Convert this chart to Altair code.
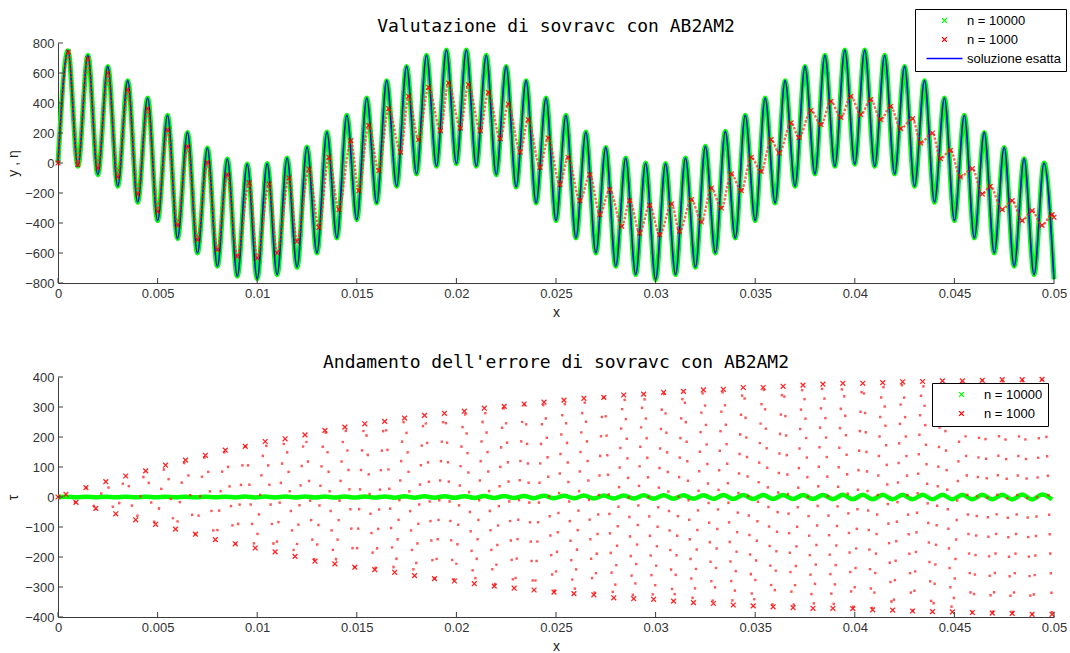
import altair as alt
import pandas as pd

# ---------------- axes ticks / categories ----------------
X_TICKS = [0, 0.005, 0.01, 0.015, 0.02, 0.025, 0.03, 0.035, 0.04, 0.045, 0.05]
Y_TICKS_TOP = [-800, -600, -400, -200, 0, 200, 400, 600, 800]
Y_TICKS_BOT = [-400, -300, -200, -100, 0, 100, 200, 300, 400]

SERIES_TOP = ["n = 10000", "n = 1000", "soluzione esatta"]
COLORS_TOP = ["#00ff00", "#ff0000", "#0000ff"]
SERIES_BOT = ["n = 10000", "n = 1000"]
COLORS_BOT = ["#00ff00", "#ff0000"]

# ---------------- top panel: exact solution (local extremes) ----------------
exact_x = [
    0.0, 0.0005, 0.001, 0.0015, 0.002, 0.0025, 0.003, 0.0035, 0.004, 0.0045,
    0.005, 0.0055, 0.006, 0.0065, 0.007, 0.0075, 0.008, 0.0085, 0.009, 0.0095,
    0.01, 0.0105, 0.011, 0.0115, 0.012, 0.0125, 0.013, 0.0135, 0.014, 0.0145,
    0.015, 0.0155, 0.016, 0.0165, 0.017, 0.0175, 0.018, 0.0185, 0.019, 0.0195,
    0.02, 0.0205, 0.021, 0.0215, 0.022, 0.0225, 0.023, 0.0235, 0.024, 0.0245,
    0.025, 0.0255, 0.026, 0.0265, 0.027, 0.0275, 0.028, 0.0285, 0.029, 0.0295,
    0.03, 0.0305, 0.031, 0.0315, 0.032, 0.0325, 0.033, 0.0335, 0.034, 0.0345,
    0.035, 0.0355, 0.036, 0.0365, 0.037, 0.0375, 0.038, 0.0385, 0.039, 0.0395,
    0.04, 0.0405, 0.041, 0.0415, 0.042, 0.0425, 0.043, 0.0435, 0.044, 0.0445,
    0.045, 0.0455, 0.046, 0.0465, 0.047, 0.0475, 0.048, 0.0485, 0.049, 0.0495,
    0.05,
]
exact_y = [
    0, 749, -22, 718, -78, 644, -155, 549, -262, 433,
    -384, 318, -504, 204, -600, 100, -689, 27, -755, -7,
    -771, -4, -744, 33, -695, 107, -600, 207, -500, 318,
    -378, 433, -267, 549, -155, 644, -73, 718, -22, 753,
    -5, 753, -22, 718, -78, 644, -160, 549, -267, 433,
    -384, 318, -500, 207, -600, 104, -689, 33, -744, 0,
    -778, -4, -744, 33, -695, 111, -600, 211, -500, 318,
    -384, 433, -267, 549, -155, 644, -73, 718, -22, 753,
    -8, 753, -22, 718, -73, 644, -155, 549, -262, 433,
    -384, 318, -500, 204, -600, 104, -689, 29, -744, 0,
    -775,
]

# ---------------- top panel: n = 1000 numerical solution (local extremes) ----------------
red_start_x = [0.0]
red_start_y = [0]
red_pk_x = [
    0.00052, 0.00149, 0.0025, 0.0035, 0.0045, 0.0055, 0.0065, 0.0075, 0.0085, 0.0096,
    0.0106, 0.0116, 0.0126, 0.0136, 0.0147, 0.0156, 0.0166, 0.0176, 0.0186, 0.0196,
    0.0206, 0.0216, 0.0226, 0.0236, 0.0246, 0.0256, 0.0267, 0.0277, 0.0287, 0.0297,
    0.0308, 0.0318, 0.0328, 0.0338, 0.0348, 0.0358, 0.0368, 0.0378, 0.0388, 0.0398,
    0.0408, 0.0418, 0.0429, 0.0439, 0.0448, 0.0459, 0.0468, 0.0479, 0.0489, 0.0499,
]
red_pk_y = [
    740, 695, 600, 489, 362, 222, 111, 4, -78, -133,
    -140, -100, -40, 38, 149, 251, 362, 444, 504, 533,
    522, 471, 393, 289, 167, 38, -78, -178, -251, -282,
    -273, -244, -167, -73, 38, 156, 267, 350, 411, 444,
    422, 378, 296, 200, 84, -38, -156, -251, -318, -344,
]
red_tr_x = [
    0.00099, 0.002, 0.003, 0.004, 0.005, 0.006, 0.007, 0.008, 0.009, 0.01,
    0.011, 0.012, 0.0131, 0.0141, 0.0151, 0.0161, 0.0172, 0.0181, 0.0192, 0.0202,
    0.0212, 0.0222, 0.0232, 0.0242, 0.0252, 0.0262, 0.0272, 0.0283, 0.0292, 0.0302,
    0.0312, 0.0323, 0.0333, 0.0343, 0.0353, 0.0362, 0.0372, 0.0383, 0.0393, 0.0403,
    0.0413, 0.0423, 0.0433, 0.0443, 0.0453, 0.0464, 0.0474, 0.0484, 0.0494, 0.05,
]
red_tr_y = [
    -11, -33, -93, -207, -322, -416, -511, -578, -622, -633,
    -600, -522, -429, -311, -184, -51, 73, 156, 216, 233,
    216, 162, 73, -29, -144, -251, -344, -422, -467, -478,
    -456, -393, -300, -184, -56, 67, 171, 256, 304, 322,
    289, 229, 133, 29, -93, -207, -311, -384, -416, -362,
]

# ---------------- bottom panel: error (local extremes) ----------------
err_pk_x = [
    0.0004, 0.0014, 0.0024, 0.0034, 0.0044, 0.0054, 0.0064, 0.0074, 0.0084, 0.0094,
    0.0104, 0.0114, 0.0124, 0.0134, 0.0144, 0.0154, 0.0164, 0.0174, 0.0184, 0.0194,
    0.0204, 0.0214, 0.0224, 0.0234, 0.0244, 0.0254, 0.0264, 0.0274, 0.0284, 0.0294,
    0.0304, 0.0314, 0.0324, 0.0334, 0.0344, 0.0354, 0.0364, 0.0374, 0.0384, 0.0394,
    0.0404, 0.0414, 0.0424, 0.0434, 0.0444, 0.0454, 0.0464, 0.0474, 0.0484, 0.0494,
]
err_tr_x = [
    0.0009, 0.0019, 0.0029, 0.0039, 0.0049, 0.0059, 0.0069, 0.0079, 0.0089, 0.0099,
    0.0109, 0.0119, 0.0129, 0.0139, 0.0149, 0.0159, 0.0169, 0.0179, 0.0189, 0.0199,
    0.0209, 0.0219, 0.0229, 0.0239, 0.0249, 0.0259, 0.0269, 0.0279, 0.0289, 0.0299,
    0.0309, 0.0319, 0.0329, 0.0339, 0.0349, 0.0359, 0.0369, 0.0379, 0.0389, 0.0399,
    0.0409, 0.0419, 0.0429, 0.0439, 0.0449, 0.0459, 0.0469, 0.0479, 0.0489, 0.0499,
]
err1000_pk = [
    9, 31, 51, 70, 87, 106, 123, 139, 156, 169,
    185, 194, 207, 222, 233, 244, 252, 263, 272, 279,
    286, 296, 302, 310, 316, 323, 329, 332, 340, 343,
    349, 352, 357, 359, 365, 365, 369, 373, 376, 379,
    379, 381, 384, 385, 387, 387, 389, 391, 391, 392,
]
err1000_tr = [
    -18, -38, -56, -76, -91, -107, -124, -142, -156, -170,
    -183, -198, -214, -223, -234, -242, -251, -262, -272, -280,
    -289, -297, -304, -310, -317, -322, -326, -336, -339, -341,
    -347, -352, -355, -360, -363, -366, -369, -371, -371, -372,
    -376, -377, -380, -382, -383, -385, -387, -388, -391, -391,
]
err10000_pk = [
    0.5, 0.6, 0.7, 0.8, 0.9, 1.0, 1.0, 1.1, 1.2, 1.3,
    1.4, 1.5, 1.6, 1.7, 1.8, 1.9, 2.0, 2.2, 2.4, 2.6,
    2.8, 3.1, 3.4, 3.7, 4.0, 4.3, 4.6, 4.9, 5.2, 5.5,
    5.7, 5.9, 6.1, 6.3, 6.5, 6.7, 6.8, 6.9, 7.0, 7.1,
    7.2, 7.3, 7.4, 7.5, 7.6, 7.7, 7.8, 7.9, 8.0, 8.1,
]
err10000_tr = [
    -0.6, -0.7, -0.8, -0.9, -1.0, -1.0, -1.1, -1.2, -1.3, -1.4,
    -1.5, -1.6, -1.7, -1.8, -1.9, -2.0, -2.1, -2.3, -2.5, -2.7,
    -3.0, -3.3, -3.6, -3.9, -4.2, -4.5, -4.8, -5.1, -5.4, -5.6,
    -5.8, -6.0, -6.2, -6.4, -6.6, -6.8, -6.9, -7.0, -7.1, -7.2,
    -7.3, -7.4, -7.5, -7.6, -7.7, -7.8, -7.9, -8.0, -8.1, -8.2,
]

# ---------------- tables ----------------
def table(xs, ys, name):
    return pd.DataFrame({"x": xs, "y": ys, "series": name})

exact_df = table(exact_x, exact_y, "soluzione esatta")
red_df = pd.concat([
    table(red_start_x, red_start_y, "n = 1000"),
    table(red_pk_x, red_pk_y, "n = 1000"),
    table(red_tr_x, red_tr_y, "n = 1000"),
]).sort_values("x")
e1000_df = pd.concat([
    table(red_start_x, red_start_y, "n = 1000"),
    table(err_pk_x, err1000_pk, "n = 1000"),
    table(err_tr_x, err1000_tr, "n = 1000"),
]).sort_values("x")
e10000_df = pd.concat([
    table(red_start_x, red_start_y, "n = 10000"),
    table(err_pk_x, err10000_pk, "n = 10000"),
    table(err_tr_x, err10000_tr, "n = 10000"),
]).sort_values("x")
xt_df = pd.DataFrame({"t": X_TICKS})
yt_top_df = pd.DataFrame({"t": Y_TICKS_TOP})
yt_bot_df = pd.DataFrame({"t": Y_TICKS_BOT})

# ---------------- styling ----------------
W, H = 996, 240
XMARK = "M-0.8,-0.8L0.8,0.8M-0.8,0.8L0.8,-0.8"
LINESYM = "M-6,0L6,0"
AX = "#3c3c3c"

x_scale = alt.Scale(domain=[0, 0.05], nice=False, zero=False)
y_scale_top = alt.Scale(domain=[-800, 800], nice=False, zero=False)
y_scale_bot = alt.Scale(domain=[-400, 400], nice=False, zero=False)

x_axis = alt.Axis(values=X_TICKS, format="~g", title="x", labelFlush=False,
                  labelOverlap=False, titlePadding=5)
y_axis_top = alt.Axis(values=Y_TICKS_TOP, format="d", title="y , η", labelFlush=False,
                      labelOverlap=False, titlePadding=4)
y_axis_bot = alt.Axis(values=Y_TICKS_BOT, format="d", title="τ", labelFlush=False,
                      labelOverlap=False, titlePadding=4)


def legend(lx, ly):
    return alt.Legend(orient="none", legendX=lx, legendY=ly, title=None,
                      fillColor="white", strokeColor="#000000", padding=5,
                      symbolSize=36, symbolStrokeWidth=1.3, symbolOffset=18,
                      labelOffset=16, labelFont="Liberation Sans", labelFontSize=13,
                      labelColor="#000000", rowPadding=5, symbolOpacity=1)


def X():
    return alt.X("x:Q", scale=x_scale, axis=x_axis)


def tick_rules(y_scale, y_axis, yt_df):
    xr = alt.Chart(xt_df).mark_rule(color=AX, strokeWidth=1).encode(
        x=alt.X("t:Q", scale=x_scale, axis=x_axis),
        y=alt.value(H), y2=alt.value(H - 5))
    yr = alt.Chart(yt_df).mark_rule(color=AX, strokeWidth=1).encode(
        y=alt.Y("t:Q", scale=y_scale, axis=y_axis),
        x=alt.value(0), x2=alt.value(5))
    return xr, yr


# ---------------- top chart ----------------
Yt = alt.Y("y:Q", scale=y_scale_top, axis=y_axis_top)
leg_top = legend(857, -34)

green_top = alt.Chart(exact_df).mark_line(color="#00ff00", strokeWidth=5,
                                          interpolate="monotone").encode(x=X(), y=Yt)
blue_top = alt.Chart(exact_df).mark_line(color="#0000ff", strokeWidth=1.6,
                                         interpolate="monotone").encode(x=X(), y=Yt)
red_line_top = alt.Chart(red_df).mark_line(color="#ff2020", strokeWidth=2.4,
                                           strokeDash=[2.5, 1.5], opacity=0.7,
                                           interpolate="monotone").encode(x=X(), y=Yt)
red_pts_top = alt.Chart(red_df).mark_point(filled=False, size=36, strokeWidth=1.3,
                                           opacity=0.85).encode(
    x=X(), y=Yt,
    color=alt.Color("series:N", scale=alt.Scale(domain=SERIES_TOP, range=COLORS_TOP),
                    legend=leg_top),
    shape=alt.Shape("series:N", scale=alt.Scale(domain=SERIES_TOP,
                                                 range=[XMARK, XMARK, LINESYM]),
                    legend=leg_top),
)
xr_top, yr_top = tick_rules(y_scale_top, y_axis_top, yt_top_df)

top = alt.layer(green_top, blue_top, red_line_top, red_pts_top, xr_top, yr_top).properties(
    width=W, height=H,
    title=alt.TitleParams("Valutazione di sovravc con AB2AM2", font="DejaVu Sans Mono",
                          fontSize=18, fontWeight="normal", color="#000000", offset=-27,
                          anchor="middle"),
)

# ---------------- bottom chart ----------------
Yb = alt.Y("y:Q", scale=y_scale_bot, axis=y_axis_bot)
leg_bot = legend(874, 6)

green_bot = alt.Chart(e10000_df).mark_line(color="#00ff00", strokeWidth=4.5,
                                           interpolate="monotone").encode(x=X(), y=Yb)
red_line_bot = alt.Chart(e1000_df).mark_line(color="#ff2020", strokeWidth=2.4,
                                             strokeDash=[2.5, 17], opacity=0.75,
                                             interpolate="monotone").encode(x=X(), y=Yb)
red_pts_bot = alt.Chart(e1000_df).mark_point(filled=False, size=36, strokeWidth=1.3,
                                             opacity=0.85).encode(
    x=X(), y=Yb,
    color=alt.Color("series:N", scale=alt.Scale(domain=SERIES_BOT, range=COLORS_BOT),
                    legend=leg_bot),
    shape=alt.Shape("series:N", scale=alt.Scale(domain=SERIES_BOT, range=[XMARK, XMARK]),
                    legend=leg_bot),
)
xr_bot, yr_bot = tick_rules(y_scale_bot, y_axis_bot, yt_bot_df)

bottom = alt.layer(green_bot, red_line_bot, red_pts_bot, xr_bot, yr_bot).properties(
    width=W, height=H,
    title=alt.TitleParams("Andamento dell'errore di sovravc con AB2AM2",
                          font="DejaVu Sans Mono", fontSize=18, fontWeight="normal",
                          color="#000000", offset=-1, anchor="middle"),
)

chart = alt.vconcat(top, bottom, spacing=35).resolve_scale(
    color="independent", shape="independent", y="independent"
).properties(
    padding={"left": 6, "top": 8, "right": 0, "bottom": 0},
    background="white",
).configure_view(stroke=None).configure_axis(
    domainColor=AX, domainWidth=1, tickSize=0, grid=False,
    labelFont="Liberation Sans", labelFontSize=13, labelColor="#333333", labelPadding=4,
    titleFont="Liberation Sans", titleFontSize=14, titleFontWeight="normal",
    titleColor="#222222",
)

chart.save("out.html", embed_options={"renderer": "svg", "actions": False})
